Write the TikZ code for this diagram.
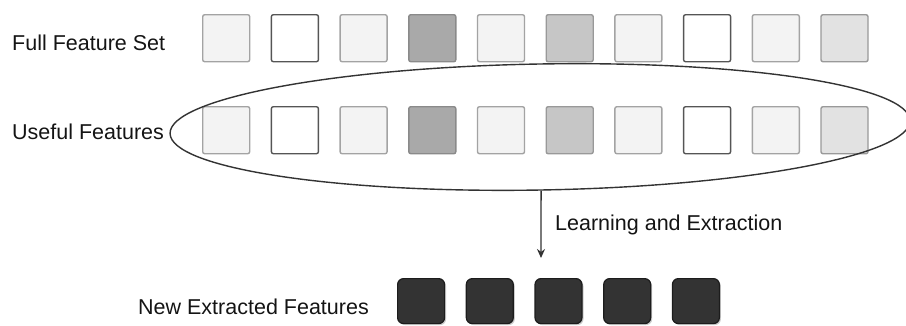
\documentclass[tikz,border=0pt]{standalone}
\usepackage{fontspec}
\setmainfont{Liberation Sans}
\usetikzlibrary{shapes.geometric,arrows.meta,shadows}
\definecolor{lightf}{HTML}{F3F3F3}
\definecolor{lightb}{HTML}{A3A3A3}
\definecolor{whiteb}{HTML}{555555}
\definecolor{darkf}{HTML}{A9A9A9}
\definecolor{darkb}{HTML}{8A8A8A}
\definecolor{midf}{HTML}{C6C6C6}
\definecolor{midb}{HTML}{999999}
\definecolor{palef}{HTML}{E2E2E2}
\definecolor{newf}{HTML}{333333}
\definecolor{newb}{HTML}{1C1C1C}
\definecolor{linec}{HTML}{333333}
\tikzset{
  feat/.style={rectangle, rounded corners=2pt, line width=1.4pt, minimum width=47pt, minimum height=47pt, inner sep=0pt, anchor=north west},
  fl/.style={feat, fill=lightf, draw=lightb},
  fw/.style={feat, fill=white, draw=whiteb},
  fd/.style={feat, fill=darkf, draw=darkb},
  fm/.style={feat, fill=midf, draw=midb},
  fp/.style={feat, fill=palef, draw=midb},
  newfeat/.style={rectangle, rounded corners=6pt, line width=1.2pt, fill=newf, draw=newb, minimum width=47pt, minimum height=45pt, inner sep=0pt, anchor=north west, drop shadow={shadow xshift=1.5pt, shadow yshift=-1.5pt, fill=black!25, opacity=0.8}},
  lbl/.style={anchor=base west, inner sep=0pt, font=\fontsize{21.5pt}{24pt}\selectfont, text=black!92},
}
\begin{document}
\begin{tikzpicture}[x=1pt,y=-1pt]
\useasboundingbox (0,0) rectangle (906,325);
% labels
\node[lbl] (lfull) at (12,50) {Full Feature Set};
\node[lbl] (luse) at (12,139) {Useful Features};
\node[lbl] (lnew) at (138,314) {New Extracted Features};
\node[lbl] (llearn) at (555,230) {Learning and Extraction};
% top row
\foreach \s [count=\i from 0] in {fl,fw,fl,fd,fl,fm,fl,fw,fl,fp} {
  \node[\s] (a\i) at ({202+68.7*\i},14) {};
  \node[\s] (b\i) at ({202+68.7*\i},106) {};
}
% ellipse
\node[ellipse, draw=linec, line width=1.4pt, minimum width=740pt, minimum height=126pt, inner sep=0pt, rotate=1] (ell) at (540,127) {};
% arrow
\coordinate (aend) at (541,258);
\draw[linec, line width=1.3pt, -{Stealth[length=9pt,width=8pt]}] (ell.south) -- (aend);
% new features
\foreach \i in {0,...,4} {
  \node[newfeat] (n\i) at ({397+68.7*\i},278) {};
}
\end{tikzpicture}
\end{document}
